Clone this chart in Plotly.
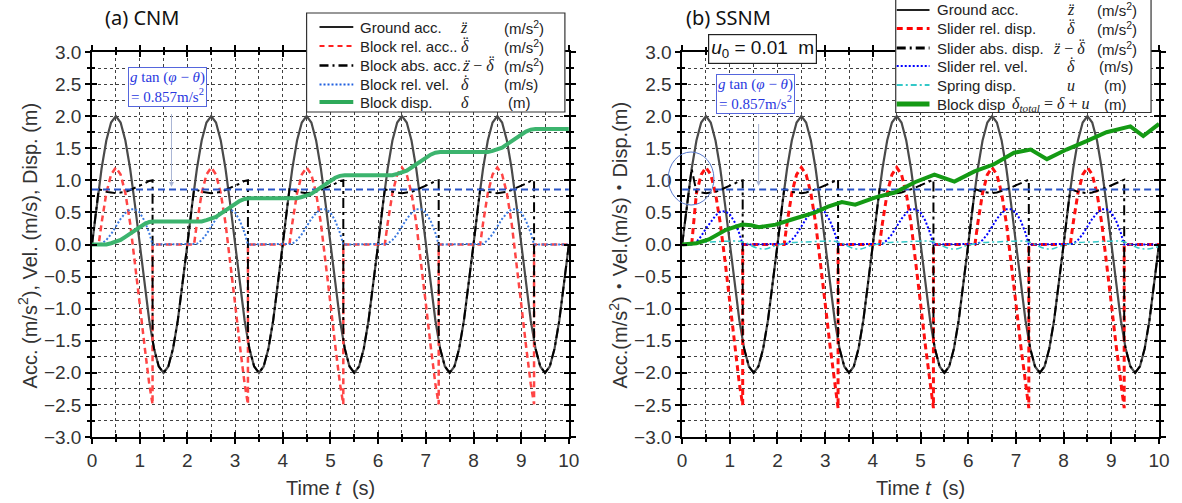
import plotly.graph_objects as go

# ---------------- data ----------------
# shared time grid (s); duplicated instants mark the stop of sliding (vertical jumps)
TIME = [
    0.0, 0.1, 0.14, 0.2, 0.3, 0.4, 0.5, 0.6, 0.7, 0.8, 0.9, 1.0, 1.1, 1.2, 1.27, 1.27, 1.3, 1.4, 1.5, 1.6, 1.7, 1.8, 1.9,
    2.0, 2.1, 2.14, 2.2, 2.3, 2.4, 2.5, 2.6, 2.7, 2.8, 2.9, 3.0, 3.1, 3.2, 3.27, 3.27, 3.3, 3.4, 3.5, 3.6, 3.7, 3.8, 3.9,
    4.0, 4.1, 4.14, 4.2, 4.3, 4.4, 4.5, 4.6, 4.7, 4.8, 4.9, 5.0, 5.1, 5.2, 5.27, 5.27, 5.3, 5.4, 5.5, 5.6, 5.7, 5.8, 5.9,
    6.0, 6.1, 6.14, 6.2, 6.3, 6.4, 6.5, 6.6, 6.7, 6.8, 6.9, 7.0, 7.1, 7.2, 7.27, 7.27, 7.3, 7.4, 7.5, 7.6, 7.7, 7.8, 7.9,
    8.0, 8.1, 8.14, 8.2, 8.3, 8.4, 8.5, 8.6, 8.7, 8.8, 8.9, 9.0, 9.1, 9.2, 9.27, 9.27, 9.3, 9.4, 9.5, 9.6, 9.7, 9.8, 9.9,
    10.0]

GROUND_ACC = [
    0.00, 0.62, 0.86, 1.18, 1.62, 1.90, 2.00, 1.90, 1.62, 1.18, 0.62, 0.00, -0.62, -1.18, -1.49, -1.49, -1.62, -1.90, -2.00, -1.90, -1.62, -1.18, -0.62,
    0.00, 0.62, 0.86, 1.18, 1.62, 1.90, 2.00, 1.90, 1.62, 1.18, 0.62, 0.00, -0.62, -1.18, -1.49, -1.49, -1.62, -1.90, -2.00, -1.90, -1.62, -1.18, -0.62,
    0.00, 0.62, 0.86, 1.18, 1.62, 1.90, 2.00, 1.90, 1.62, 1.18, 0.62, 0.00, -0.62, -1.18, -1.49, -1.49, -1.62, -1.90, -2.00, -1.90, -1.62, -1.18, -0.62,
    0.00, 0.62, 0.86, 1.18, 1.62, 1.90, 2.00, 1.90, 1.62, 1.18, 0.62, 0.00, -0.62, -1.18, -1.49, -1.49, -1.62, -1.90, -2.00, -1.90, -1.62, -1.18, -0.62,
    0.00, 0.62, 0.86, 1.18, 1.62, 1.90, 2.00, 1.90, 1.62, 1.18, 0.62, 0.00, -0.62, -1.18, -1.49, -1.49, -1.62, -1.90, -2.00, -1.90, -1.62, -1.18, -0.62,
    0.00]

# (a) CNM
CNM_ABS_ACC = [
    0.00, 0.62, 0.86, 0.85, 0.82, 0.81, 0.80, 0.81, 0.82, 0.85, 0.88, 0.92, 0.95, 0.99, 1.00, -1.49, -1.62, -1.90, -2.00, -1.90, -1.62, -1.18, -0.62,
    0.00, 0.62, 0.86, 0.85, 0.82, 0.81, 0.80, 0.81, 0.82, 0.85, 0.88, 0.92, 0.95, 0.99, 1.00, -1.49, -1.62, -1.90, -2.00, -1.90, -1.62, -1.18, -0.62,
    0.00, 0.62, 0.86, 0.85, 0.82, 0.81, 0.80, 0.81, 0.82, 0.85, 0.88, 0.92, 0.95, 0.99, 1.00, -1.49, -1.62, -1.90, -2.00, -1.90, -1.62, -1.18, -0.62,
    0.00, 0.62, 0.86, 0.85, 0.82, 0.81, 0.80, 0.81, 0.82, 0.85, 0.88, 0.92, 0.95, 0.99, 1.00, -1.49, -1.62, -1.90, -2.00, -1.90, -1.62, -1.18, -0.62,
    0.00, 0.62, 0.86, 0.85, 0.82, 0.81, 0.80, 0.81, 0.82, 0.85, 0.88, 0.92, 0.95, 0.99, 1.00, -1.49, -1.62, -1.90, -2.00, -1.90, -1.62, -1.18, -0.62,
    0.00]
CNM_REL_ACC = [
    0, 0, 0, 0.33, 0.80, 1.09, 1.20, 1.09, 0.80, 0.33, -0.26, -0.92, -1.57, -2.17, -2.49, 0, 0, 0, 0, 0, 0, 0, 0,
    0, 0, 0, 0.33, 0.80, 1.09, 1.20, 1.09, 0.80, 0.33, -0.26, -0.92, -1.57, -2.17, -2.49, 0, 0, 0, 0, 0, 0, 0, 0,
    0, 0, 0, 0.33, 0.80, 1.09, 1.20, 1.09, 0.80, 0.33, -0.26, -0.92, -1.57, -2.17, -2.49, 0, 0, 0, 0, 0, 0, 0, 0,
    0, 0, 0, 0.33, 0.80, 1.09, 1.20, 1.09, 0.80, 0.33, -0.26, -0.92, -1.57, -2.17, -2.49, 0, 0, 0, 0, 0, 0, 0, 0,
    0, 0, 0, 0.33, 0.80, 1.09, 1.20, 1.09, 0.80, 0.33, -0.26, -0.92, -1.57, -2.17, -2.49, 0, 0, 0, 0, 0, 0, 0, 0,
    0]
CNM_REL_VEL = [
    0, 0, 0, 0.01, 0.07, 0.16, 0.28, 0.40, 0.49, 0.55, 0.55, 0.50, 0.37, 0.18, 0.00, 0, 0, 0, 0, 0, 0, 0, 0,
    0, 0, 0, 0.01, 0.07, 0.16, 0.28, 0.40, 0.49, 0.55, 0.55, 0.50, 0.37, 0.18, 0.00, 0, 0, 0, 0, 0, 0, 0, 0,
    0, 0, 0, 0.01, 0.07, 0.16, 0.28, 0.40, 0.49, 0.55, 0.55, 0.50, 0.37, 0.18, 0.00, 0, 0, 0, 0, 0, 0, 0, 0,
    0, 0, 0, 0.01, 0.07, 0.16, 0.28, 0.40, 0.49, 0.55, 0.55, 0.50, 0.37, 0.18, 0.00, 0, 0, 0, 0, 0, 0, 0, 0,
    0, 0, 0, 0.01, 0.07, 0.16, 0.28, 0.40, 0.49, 0.55, 0.55, 0.50, 0.37, 0.18, 0.00, 0, 0, 0, 0, 0, 0, 0, 0,
    0]
CNM_DISP = [
    0, 0, 0, 0, 0.00, 0.02, 0.04, 0.07, 0.12, 0.17, 0.22, 0.28, 0.32, 0.35, 0.36, 0.36, 0.36, 0.36, 0.36, 0.36, 0.36, 0.36, 0.36,
    0.36, 0.36, 0.36, 0.36, 0.36, 0.38, 0.40, 0.43, 0.48, 0.53, 0.58, 0.64, 0.68, 0.71, 0.72, 0.72, 0.72, 0.72, 0.72, 0.72, 0.72, 0.72, 0.72,
    0.72, 0.72, 0.72, 0.72, 0.72, 0.74, 0.76, 0.79, 0.84, 0.89, 0.94, 1.00, 1.04, 1.07, 1.08, 1.08, 1.08, 1.08, 1.08, 1.08, 1.08, 1.08, 1.08,
    1.08, 1.08, 1.08, 1.08, 1.08, 1.10, 1.12, 1.15, 1.20, 1.25, 1.30, 1.36, 1.40, 1.43, 1.44, 1.44, 1.44, 1.44, 1.44, 1.44, 1.44, 1.44, 1.44,
    1.44, 1.44, 1.44, 1.44, 1.44, 1.46, 1.48, 1.51, 1.56, 1.61, 1.66, 1.72, 1.76, 1.79, 1.80, 1.80, 1.80, 1.80, 1.80, 1.80, 1.80, 1.80, 1.80,
    1.80]

# (b) SSNM
SSNM_ABS_ACC = [
    0.00, 0.62, 0.86, 1.18, 0.82, 0.81, 0.80, 0.81, 0.82, 0.85, 0.88, 0.92, 0.95, 0.99, 1.00, -1.49, -1.62, -1.90, -2.00, -1.90, -1.62, -1.18, -0.62,
    0.00, 0.62, 0.86, 0.85, 0.82, 0.81, 0.80, 0.81, 0.83, 0.86, 0.89, 0.92, 0.95, 0.99, 1.01, -1.49, -1.62, -1.90, -2.00, -1.90, -1.62, -1.18, -0.62,
    0.00, 0.62, 0.86, 0.85, 0.82, 0.81, 0.80, 0.81, 0.83, 0.86, 0.89, 0.92, 0.95, 0.99, 1.01, -1.49, -1.62, -1.90, -2.00, -1.90, -1.62, -1.18, -0.62,
    0.00, 0.62, 0.86, 0.85, 0.82, 0.81, 0.80, 0.81, 0.83, 0.86, 0.89, 0.92, 0.95, 0.99, 1.01, -1.49, -1.62, -1.90, -2.00, -1.90, -1.62, -1.18, -0.62,
    0.00, 0.62, 0.86, 0.85, 0.82, 0.81, 0.80, 0.81, 0.83, 0.86, 0.89, 0.92, 0.95, 0.99, 1.01, -1.49, -1.62, -1.90, -2.00, -1.90, -1.62, -1.18, -0.62,
    0.00]
SSNM_REL_ACC = [
    0, 0, 0, 0, 0.80, 1.09, 1.20, 1.09, 0.80, 0.33, -0.26, -0.92, -1.57, -2.17, -2.50, 0, 0, 0, 0, 0, 0, 0, 0,
    0, 0, 0, 0.33, 0.80, 1.09, 1.20, 1.09, 0.80, 0.33, -0.26, -0.92, -1.57, -2.17, -2.55, 0, 0, 0, 0, 0, 0, 0, 0,
    0, 0, 0, 0.33, 0.80, 1.09, 1.20, 1.09, 0.80, 0.33, -0.26, -0.92, -1.57, -2.17, -2.55, 0, 0, 0, 0, 0, 0, 0, 0,
    0, 0, 0, 0.33, 0.80, 1.09, 1.20, 1.09, 0.80, 0.33, -0.26, -0.92, -1.57, -2.17, -2.55, 0, 0, 0, 0, 0, 0, 0, 0,
    0, 0, 0, 0.33, 0.80, 1.09, 1.20, 1.09, 0.80, 0.33, -0.26, -0.92, -1.57, -2.17, -2.55, 0, 0, 0, 0, 0, 0, 0, 0,
    0]
SSNM_REL_VEL = [
    0, 0, 0, 0, 0.04, 0.13, 0.25, 0.36, 0.45, 0.51, 0.52, 0.47, 0.35, 0.17, 0.00, 0, 0, 0, 0, 0, 0, 0, 0,
    0, 0, 0, 0.01, 0.07, 0.16, 0.28, 0.40, 0.49, 0.55, 0.55, 0.50, 0.37, 0.18, 0.00, 0, 0, 0, 0, 0, 0, 0, 0,
    0, 0, 0, 0.01, 0.07, 0.16, 0.28, 0.40, 0.49, 0.55, 0.55, 0.50, 0.37, 0.18, 0.00, 0, 0, 0, 0, 0, 0, 0, 0,
    0, 0, 0, 0.01, 0.07, 0.16, 0.28, 0.40, 0.49, 0.55, 0.55, 0.50, 0.37, 0.18, 0.00, 0, 0, 0, 0, 0, 0, 0, 0,
    0, 0, 0, 0.01, 0.07, 0.16, 0.28, 0.40, 0.49, 0.55, 0.55, 0.50, 0.37, 0.18, 0.00, 0, 0, 0, 0, 0, 0, 0, 0,
    0]
SPRING_T = [0.0, 0.3, 0.6, 0.9, 1.2, 1.35, 1.55, 1.75, 1.95,
            2.3, 2.6, 2.9, 3.2, 3.35, 3.55, 3.75, 3.95,
            4.3, 4.6, 4.9, 5.2, 5.35, 5.55, 5.75, 5.95,
            6.3, 6.6, 6.9, 7.2, 7.35, 7.55, 7.75, 7.95,
            8.3, 8.6, 8.9, 9.2, 9.35, 9.55, 9.75, 10.0]
SPRING_U = [0.00, 0.03, 0.04, 0.05, 0.05, 0.02, -0.05, -0.07, -0.02,
            0.03, 0.04, 0.05, 0.05, 0.02, -0.05, -0.07, -0.02,
            0.03, 0.04, 0.05, 0.05, 0.02, -0.05, -0.07, -0.02,
            0.03, 0.04, 0.05, 0.05, 0.02, -0.05, -0.07, -0.02,
            0.03, 0.04, 0.05, 0.05, 0.02, -0.05, -0.07, -0.03]
TOTAL_T = [0.0, 0.3, 0.56, 0.92, 1.26, 1.45, 1.61, 1.96, 2.3, 2.79, 3.06, 3.35, 3.63, 3.9, 4.04,
           4.46, 4.88, 5.29, 5.71, 6.13, 6.54, 6.96, 7.31, 7.65, 8.06, 8.48, 8.9, 9.4, 9.67, 10.0]
TOTAL_DISP = [0.00, 0.02, 0.08, 0.23, 0.31, 0.30, 0.27, 0.31, 0.39, 0.50, 0.59, 0.66, 0.62, 0.70, 0.73,
              0.81, 0.97, 1.09, 0.98, 1.14, 1.25, 1.43, 1.48, 1.33, 1.48, 1.61, 1.75, 1.84, 1.69, 1.88]

THRESHOLD = 0.857
X_RANGE = [0, 10]
Y_RANGE = [-3, 3]

# ---------------- layout helpers (pixel -> paper) ----------------
W, H = 1182, 503
ML, MR, MT, MB = 92, 16, 52, 66
PWID = W - ML - MR
PHGT = H - MT - MB


def PX(px):
    return (px - ML) / PWID


def PY(py):
    return (H - MB - py) / PHGT


DOM_L = [0, PX(572)]
DOM_R = [PX(686), 1]

fig = go.Figure()


def line(x, y, ax, color, width, dash='solid', shape='linear'):
    fig.add_trace(go.Scatter(x=x, y=y, mode='lines', xaxis=ax[0], yaxis=ax[1],
                             line=dict(color=color, width=width, dash=dash, shape=shape),
                             showlegend=False, hoverinfo='skip'))


# left panel
L = ('x', 'y')
line(TIME, GROUND_ACC, L, '#4a4a4a', 2.2)
line(TIME, CNM_REL_ACC, L, '#ff4545', 2.5, '6px,4px')
line(TIME, CNM_ABS_ACC, L, '#000000', 2, '10px,4px,3px,4px')
line(TIME, CNM_REL_VEL, L, '#3a78e0', 2, '2px,2px')
line(X_RANGE, [THRESHOLD, THRESHOLD], L, '#2a55c8', 2, '7px,4px')
line(TIME, CNM_DISP, L, '#3cb46e', 4)

# right panel
R = ('x2', 'y2')
line(TIME, GROUND_ACC, R, '#4a4a4a', 2.2)
line(TIME, SSNM_REL_ACC, R, '#ff1010', 3, '6px,4px')
line(TIME, SSNM_ABS_ACC, R, '#000000', 2, '10px,4px,3px,4px')
line(TIME, SSNM_REL_VEL, R, '#0000ff', 2, '2px,2px')
line(SPRING_T, SPRING_U, R, '#33c8c8', 1.5, '6px,3px,2px,3px', 'spline')
line(X_RANGE, [THRESHOLD, THRESHOLD], R, '#2a55c8', 2, '7px,4px')
line(TOTAL_T, TOTAL_DISP, R, '#149a14', 4)

# dummy traces for inner-tick overlay axes
for ax in (('x3', 'y3'), ('x4', 'y4')):
    fig.add_trace(go.Scatter(x=[0], y=[0], mode='markers', xaxis=ax[0], yaxis=ax[1],
                             marker=dict(opacity=0), showlegend=False, hoverinfo='skip'))

GRIDC = 'rgba(0,0,0,0.75)'
TICKF = dict(family='Liberation Sans, Arial', size=19, color='#333')


def xax(domain, anchor):
    return dict(domain=domain, anchor=anchor, range=X_RANGE, dtick=1, tick0=0,
                showline=True, linecolor='black', linewidth=1.5, mirror='ticks',
                ticks='outside', ticklen=5, tickwidth=1.5, tickcolor='black',
                showgrid=True, gridcolor=GRIDC, griddash='dot', gridwidth=1, zeroline=False,
                tickfont=TICKF,
                minor=dict(dtick=0.5, ticks='outside', ticklen=3, tickcolor='black',
                           showgrid=True, gridcolor=GRIDC, griddash='dot', gridwidth=1))


def yax(anchor):
    return dict(domain=[0, 1], anchor=anchor, range=Y_RANGE, dtick=0.5, tick0=0, tickformat='.1f',
                showline=True, linecolor='black', linewidth=1.5, mirror='ticks',
                ticks='outside', ticklen=5, tickwidth=1.5, tickcolor='black',
                showgrid=True, gridcolor=GRIDC, griddash='dot', gridwidth=1, zeroline=False,
                tickfont=TICKF,
                minor=dict(dtick=0.25, ticks='outside', ticklen=3, tickcolor='black',
                           showgrid=True, gridcolor=GRIDC, griddash='dot', gridwidth=1))


def ovx(base, anchor):
    return dict(overlaying=base, anchor=anchor, range=X_RANGE, dtick=1, tick0=0,
                ticks='inside', ticklen=5, tickwidth=1.5, tickcolor='black', mirror='ticks',
                showline=False, showgrid=False, zeroline=False, showticklabels=False,
                minor=dict(dtick=0.5, ticks='inside', ticklen=3, tickcolor='black', showgrid=False))


def ovy(base, anchor):
    return dict(overlaying=base, anchor=anchor, range=Y_RANGE, dtick=0.5, tick0=0,
                ticks='inside', ticklen=5, tickwidth=1.5, tickcolor='black', mirror='ticks',
                showline=False, showgrid=False, zeroline=False, showticklabels=False,
                minor=dict(dtick=0.25, ticks='inside', ticklen=3, tickcolor='black', showgrid=False))


shapes = []
annotations = []


def ann(text, x, y, size=15, family='Liberation Sans, Arial', color='#222', xanchor='left', **kw):
    d = dict(text=text, x=PX(x), y=PY(y), xref='paper', yref='paper', showarrow=False,
             xanchor=xanchor, yanchor='middle', font=dict(family=family, size=size, color=color))
    d.update(kw)
    annotations.append(d)


def box(x0, y0, x1, y1, color='#333', width=1.2):
    shapes.append(dict(type='rect', xref='paper', yref='paper', x0=PX(x0), x1=PX(x1),
                       y0=PY(y1), y1=PY(y0), line=dict(color=color, width=width), fillcolor='white',
                       layer='above'))


def sample(x0, x1, y, color, width, dash='solid'):
    shapes.append(dict(type='line', xref='paper', yref='paper', x0=PX(x0), x1=PX(x1),
                       y0=PY(y), y1=PY(y), line=dict(color=color, width=width, dash=dash), layer='above'))


SERIF = 'Liberation Serif, Times New Roman'
UNIT_A = '(m/s<sup>2</sup>)'


def symbol(parts, xc, y):
    """parts: list of (text, accent mark, dx of accent, dy of accent)."""
    text = ''.join(p[0] for p in parts)
    ann(text, xc, y, size=16, family=SERIF, color='#222', xanchor='center')
    for _, mark, dx, dy in parts:
        if mark:
            ann(mark, xc + dx, y + dy, size=16, family=SERIF, color='#222', xanchor='center')


SYM_ZDD = [('<i>z</i>', '¨', 1, 0)]
SYM_DDD = [('<i>δ</i>', '¨', 1, -4)]
SYM_ABS = [('<i>z</i>', '¨', -11, 0), (' − ', '', 0, 0), ('<i>δ</i>', '¨', 13, -4)]
SYM_DD = [('<i>δ</i>', '˙', 1, -4)]
SYM_D = [('<i>δ</i>', '', 0, 0)]
SYM_U = [('<i>u</i>', '', 0, 0)]
SYM_TOT = [('<i>δ<sub>total</sub></i> = <i>δ</i> + <i>u</i>', '', 0, 0)]

# ---- legend (a)
box(308, 13, 568, 112)
rows_a = [
    (27, 'Ground acc.', SYM_ZDD, 466, UNIT_A, ('#222', 2, 'solid')),
    (46, 'Block rel. acc..', SYM_DDD, 467, UNIT_A, ('#ff2020', 2, '5px,4px')),
    (65.5, 'Block abs. acc.', SYM_ABS, 481, UNIT_A, ('#000', 2.5, '9px,4px,2px,4px')),
    (84.5, 'Block rel. vel.', SYM_DD, 467, '(m/s)', ('#1f5fe0', 2, '2px,2px')),
    (102, 'Block disp.', SYM_D, 467, '(m)', ('#2eaa5a', 4, 'solid')),
]
for y, name, sym, sx, unit, st in rows_a:
    sample(321, 355, y, *st)
    ann(name, 360, y)
    symbol(sym, sx, y)
    if unit == '(m)':
        ann(unit, 522, y, xanchor='center')
    else:
        ann(unit, 505, y)

# ---- legend (b)
box(901, -10, 1158, 112.5)
rows_b = [
    (10, 'Ground acc.', SYM_ZDD, 1077, UNIT_A, ('#222', 2, 'solid')),
    (28.5, 'Slider rel. disp.', SYM_DDD, 1077, UNIT_A, ('#ff0000', 3, '6px,4px')),
    (48, 'Slider abs. disp.', SYM_ABS, 1075, UNIT_A, ('#000', 3, '9px,4px,2px,4px')),
    (66, 'Slider rel. vel.', SYM_DD, 1077, '(m/s)', ('#0000ff', 2, '2px,2px')),
    (85, 'Spring disp.', SYM_U, 1077, '(m)', ('#33c8c8', 2, '6px,3px,2px,3px')),
    (104, 'Block disp', SYM_TOT, 1057, '(m)', ('#149a14', 5, 'solid')),
]
for y, name, sym, sx, unit, st in rows_b:
    sample(902, 935, y, *st)
    ann(name, 941, y)
    symbol(sym, sx, y)
    if unit == '(m)':
        ann(unit, 1122, y, xanchor='center')
    elif unit == '(m/s)':
        ann(unit, 1104, y)
    else:
        ann(unit, 1102, y)

# ---- circle highlighting the spike
shapes.append(dict(type='circle', xref='paper', yref='paper', x0=PX(672), x1=PX(718),
                   y0=PY(205), y1=PY(152), line=dict(color='#5577cc', width=1), layer='above'))

# ---- panel titles
ann('(a) CNM', 142, 17, size=20, family='Noto Sans, Liberation Sans', color='#111', xanchor='center')
ann('(b) SSNM', 733, 17, size=20, family='Noto Sans, Liberation Sans', color='#111', xanchor='center')

# ---- u0 box
ann('<i>u</i><sub>0</sub> = 0.01  m', 766.5, 49, size=19, color='#111', xanchor='center',
    bordercolor='#222', borderwidth=1.2, bgcolor='white', borderpad=2)

# ---- threshold annotation boxes + arrows
THR_TXT = '<i>g</i> tan (<i>φ</i> − <i>θ</i>)<br>= 0.857m/s<sup>2</sup>'
for (bx, by, axp, tip_y, tail_y) in [(167.5, 86.5, 172, 187, 104), (759.5, 94, 763, 186, 114)]:
    annotations.append(dict(x=PX(axp), y=PY(tip_y), xref='paper', yref='paper', text=' ',
                            showarrow=True, ax=0, ay=-(tip_y - tail_y), arrowhead=2, arrowsize=1,
                            arrowwidth=1, arrowcolor='#a8b4d4'))
    ann(THR_TXT, bx, by, size=15, family=SERIF, color='#2a38e0',
        xanchor='center', bordercolor='#5566dd', borderwidth=1, bgcolor='white', borderpad=1)

# ---- axis titles
ann('Acc. (m/s<sup>2</sup>), Vel. (m/s), Disp. (m)', 27, 245, size=20, color='#333',
    xanchor='center', textangle=-90)
ann('Acc.(m/s<sup>2</sup>)・Vel.(m/s)・Disp.(m)', 621, 245, size=20,
    family='Liberation Sans, Noto Sans CJK JP', color='#333', xanchor='center', textangle=-90)
ann('Time <i>t</i>  (s)', 332, 488, size=20, color='#333', xanchor='center')
ann('Time <i>t</i>  (s)', 926, 488, size=20, color='#333', xanchor='center')

fig.update_layout(
    width=W, height=H, margin=dict(l=ML, r=MR, t=MT, b=MB),
    paper_bgcolor='white', plot_bgcolor='white', showlegend=False,
    xaxis=xax(DOM_L, 'y'), yaxis=yax('x'),
    xaxis2=xax(DOM_R, 'y2'), yaxis2=yax('x2'),
    xaxis3=ovx('x', 'y'), yaxis3=ovy('y', 'x'),
    xaxis4=ovx('x2', 'y2'), yaxis4=ovy('y2', 'x2'),
    shapes=shapes, annotations=annotations,
)

fig.write_html('out.html')
